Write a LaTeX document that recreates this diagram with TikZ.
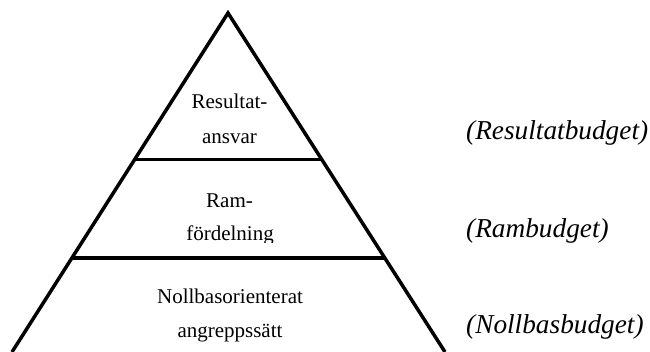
\documentclass[tikz,border=0pt]{standalone}
\usepackage{fontspec}
\setmainfont{Liberation Serif}
\usetikzlibrary{calc}
\begin{document}
\begin{tikzpicture}[x=1bp,y=-1bp,
  edge/.style={line width=3.5bp,line cap=butt,line join=miter},
  level/.style={anchor=base,inner sep=0pt,font=\fontsize{21bp}{24bp}\selectfont},
  budget/.style={anchor=base west,inner sep=0pt,font=\fontsize{27.3bp}{30bp}\selectfont\itshape}]
  \useasboundingbox (0,0) rectangle (650,351);
  % pyramid outline
  \coordinate (apex) at (228,13);
  \coordinate (bl) at (12,352);
  \coordinate (br) at (445,352);
  \draw[edge] (bl) -- (apex) -- (br);
  % level dividers
  \coordinate (d1l) at ($(apex)!0.432!(bl)$);
  \coordinate (d1r) at ($(apex)!0.432!(br)$);
  \coordinate (d2l) at ($(apex)!0.722!(bl)$);
  \coordinate (d2r) at ($(apex)!0.722!(br)$);
  \draw[edge] (d1l) -- (d1r);
  \draw[edge] (d2l) -- (d2r);
  % level texts
  \node[level] (r1) at (229.5,108) {Resultat-};
  \node[level] (r2) at (229.5,143) {ansvar};
  \begin{scope}
    \clip (60,170) rectangle (400,242);
    \node[level] (m1) at (229.5,207) {Ram-};
    \node[level] (m2) at (230,240) {fördelning};
  \end{scope}
  \node[level] (n1) at (230,303) {Nollbasorienterat};
  \node[level] (n2) at (230,337) {angreppssätt};
  % budget names
  \node[budget] (b1) at (466,139) {(Resultatbudget)};
  \node[budget] (b2) at (466,237) {(Rambudget)};
  \node[budget] (b3) at (466,333) {(Nollbasbudget)};
\end{tikzpicture}
\end{document}
